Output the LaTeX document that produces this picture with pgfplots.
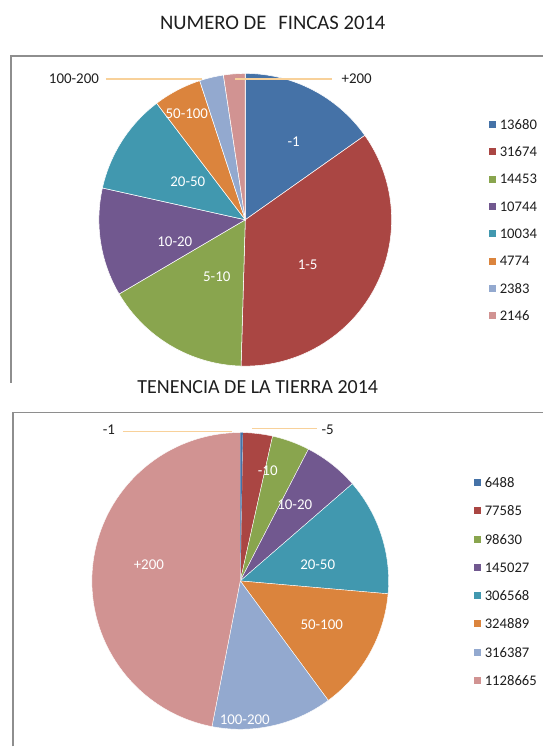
\documentclass[border=0pt]{standalone}
\usepackage{pgfplots}
\usepackage{pgfplotstable}
\usepackage{fontspec}
\setmainfont{Carlito}
\pgfplotsset{compat=1.18}

\definecolor{pc0}{HTML}{4572A7}
\definecolor{pc1}{HTML}{AA4643}
\definecolor{pc2}{HTML}{89A54E}
\definecolor{pc3}{HTML}{71588F}
\definecolor{pc4}{HTML}{4198AF}
\definecolor{pc5}{HTML}{DB843D}
\definecolor{pc6}{HTML}{93A9CF}
\definecolor{pc7}{HTML}{D19392}
\definecolor{leader}{HTML}{F8D19A}
\definecolor{framegray}{HTML}{8E8E8E}
\definecolor{txt}{HTML}{1E1E1E}

% NUMERO DE FINCAS 2014
\pgfplotstableread{
label value
-1 13680
1-5 31674
5-10 14453
10-20 10744
20-50 10034
50-100 4774
100-200 2383
+200 2146
}\fincas

% TENENCIA DE LA TIERRA 2014
\pgfplotstableread{
label value
-1 6488
-5 77585
-10 98630
10-20 145027
20-50 306568
50-100 324889
100-200 316387
+200 1128665
}\tenencia

\newcommand\piesetup[2]{%
  \def\pietot{0}%
  \pgfplotsforeachungrouped \i in {0,...,7}{%
    \pgfplotstablegetelem{\i}{value}\of{#1}%
    \edef\pietot{\fpeval{\pietot+\pgfplotsretval}}%
  }%
  \def\piecum{0}%
  \pgfplotsforeachungrouped \i in {0,...,7}{%
    \pgfplotstablegetelem{\i}{value}\of{#1}%
    \expandafter\xdef\csname #2v\i\endcsname{\pgfplotsretval}%
    \expandafter\xdef\csname #2s\i\endcsname{\fpeval{90-360*\piecum/\pietot}}%
    \edef\piecum{\fpeval{\piecum+\pgfplotsretval}}%
    \expandafter\xdef\csname #2e\i\endcsname{\fpeval{90-360*\piecum/\pietot}}%
  }%
}
\piesetup{\fincas}{A}
\piesetup{\tenencia}{B}

\begin{document}
\begin{tikzpicture}
\begin{axis}[x=0.75pt, y=0.75pt, xmin=0, xmax=544, ymin=0, ymax=747,
  hide axis, clip=false, scale only axis]
\addplot[draw=none, forget plot] coordinates {(0,0) (544,747)};

% frames
\draw[framegray, line width=1.1pt] (axis cs:11,{747-383}) -- (axis cs:11,{747-56}) -- (axis cs:544,{747-56});
\draw[framegray, line width=1.1pt] (axis cs:13,0) -- (axis cs:13,{747-413}) -- (axis cs:544,{747-413});

% titles
\node[txt, font=\fontsize{15.5}{17}\selectfont, inner sep=0pt] at (axis cs:273,{747-23}) {NUMERO DE\hspace{9pt}FINCAS 2014};
\node[txt, font=\fontsize{15}{17}\selectfont, inner sep=0pt] at (axis cs:258,{747-387}) {TENENCIA DE LA TIERRA 2014};

% top pie
\pgfplotsinvokeforeach{0,...,7}{
  \filldraw[fill=pc#1, draw=white, line width=0.4pt]
    (axis cs:245.5,527) -- (axis cs:{245.5+146.5*cos(\csname As#1\endcsname)},{527+146.5*sin(\csname As#1\endcsname)})
    arc[start angle=\csname As#1\endcsname, end angle=\csname Ae#1\endcsname, radius=109.875pt] -- cycle;
}
% bottom pie
\pgfplotsinvokeforeach{0,...,7}{
  \filldraw[fill=pc#1, draw=white, line width=0.3pt]
    (axis cs:240.5,165.5) -- (axis cs:{240.5+148.5*cos(\csname Bs#1\endcsname)},{165.5+148.5*sin(\csname Bs#1\endcsname)})
    arc[start angle=\csname Bs#1\endcsname, end angle=\csname Be#1\endcsname, radius=111.375pt] -- cycle;
}
\fill[pc0] (axis cs:240.5,165.5) -- (axis cs:{240.5+148.5*cos(\csname Bs0\endcsname)},{165.5+148.5*sin(\csname Bs0\endcsname)})
    arc[start angle=\csname Bs0\endcsname, end angle=\csname Be0\endcsname, radius=111.375pt] -- cycle;

% leader lines
\draw[leader, line width=0.9pt] (axis cs:106,{747-79}) -- (axis cs:202,{747-79});
\draw[leader, line width=0.9pt] (axis cs:235,{747-79}) -- (axis cs:332,{747-79});
\draw[leader, line width=0.9pt] (axis cs:123,{747-432}) -- (axis cs:232,{747-432});
\draw[leader, line width=0.9pt] (axis cs:252,{747-429}) -- (axis cs:317,{747-429});

% top labels
\begin{scope}[every node/.style={font=\fontsize{11.2}{12}\selectfont, inner sep=0pt}]
\node[white] at (axis cs:294,{747-142}) {-1};
\node[white] at (axis cs:308,{747-265}) {1-5};
\node[white] at (axis cs:217,{747-277}) {5-10};
\node[white] at (axis cs:175,{747-242}) {10-20};
\node[white] at (axis cs:188,{747-182}) {20-50};
\node[white] at (axis cs:187,{747-114}) {50-100};
\node[txt] at (axis cs:74,{747-79}) {100-200};
\node[txt] at (axis cs:357,{747-79}) {+200};
% bottom labels
\node[txt] at (axis cs:109,{747-430}) {-1};
\node[txt] at (axis cs:328,{747-430}) {-5};
\node[white] at (axis cs:268,{747-471}) {-10};
\node[white] at (axis cs:295,{747-505}) {10-20};
\node[white] at (axis cs:318,{747-565}) {20-50};
\node[white] at (axis cs:322,{747-625}) {50-100};
\node[white] at (axis cs:245,{747-720}) {100-200};
\node[white] at (axis cs:149,{747-565}) {+200};
\end{scope}

% legends
\pgfplotsinvokeforeach{0,...,7}{
  \fill[pc#1] (axis cs:489,{747-124.5-27.4*#1-3.5}) rectangle (axis cs:496,{747-124.5-27.4*#1+3.5});
  \node[txt, anchor=west, inner sep=0pt, font=\fontsize{11}{12}\selectfont] at (axis cs:500,{747-124.5-27.4*#1}) {\csname Av#1\endcsname};
  \fill[pc#1] (axis cs:474.5,{747-483-28.3*#1-3.5}) rectangle (axis cs:481.5,{747-483-28.3*#1+3.5});
  \node[txt, anchor=west, inner sep=0pt, font=\fontsize{11}{12}\selectfont] at (axis cs:485,{747-483-28.3*#1}) {\csname Bv#1\endcsname};
}
\end{axis}
\end{tikzpicture}
\end{document}
